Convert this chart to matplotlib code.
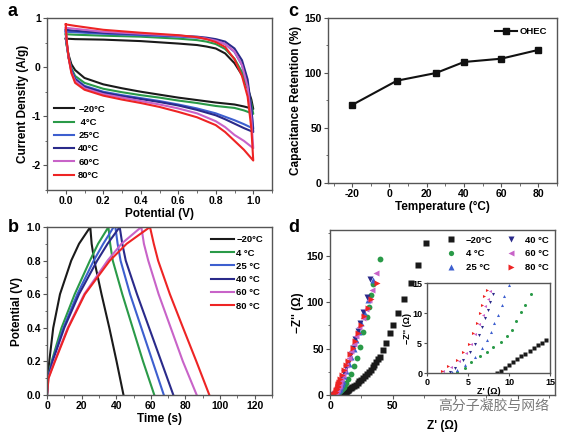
import numpy as np
import matplotlib
matplotlib.use("Agg")
import matplotlib.pyplot as plt
from matplotlib.ticker import MultipleLocator

plt.rcParams['font.family'] = ['Liberation Sans', 'DejaVu Sans']
plt.rcParams['font.weight'] = 'bold'
plt.rcParams['axes.labelweight'] = 'bold'
plt.rcParams['axes.unicode_minus'] = False

# ---------------- data ----------------
temps = ['\u221220\u00b0C', ' 4\u00b0C', '25\u00b0C', '40\u00b0C', '60\u00b0C', '80\u00b0C']
temps_b = ['\u221220\u00b0C', '4 \u00b0C', '25 \u00b0C', '40 \u00b0C', '60 \u00b0C', '80 \u00b0C']
colors = ['#1a1a1a', '#2a9a48', '#3d5fcf', '#2a2a8a', '#c863c8', '#ee2424']

# (a) CV curves: forward (upper) branch and reverse (lower) branch
cv_v_fwd = [0.0, 0.05, 0.2, 0.4, 0.6, 0.7, 0.75, 0.8, 0.85, 0.9, 0.94, 0.97, 0.99, 1.0]
cv_i_fwd = [
    [0.58, 0.57, 0.56, 0.53, 0.48, 0.45, 0.42, 0.38, 0.28, 0.08, -0.16, -0.42, -0.66, -0.85],
    [0.67, 0.66, 0.64, 0.62, 0.58, 0.55, 0.52, 0.47, 0.37, 0.17, -0.10, -0.42, -0.75, -0.95],
    [0.72, 0.71, 0.68, 0.65, 0.62, 0.60, 0.58, 0.54, 0.47, 0.31, 0.04, -0.35, -0.85, -1.25],
    [0.76, 0.74, 0.70, 0.67, 0.64, 0.62, 0.60, 0.57, 0.52, 0.38, 0.14, -0.25, -0.85, -1.32],
    [0.80, 0.78, 0.72, 0.68, 0.64, 0.61, 0.58, 0.54, 0.47, 0.32, 0.04, -0.40, -1.05, -1.65],
    [0.87, 0.84, 0.76, 0.70, 0.65, 0.61, 0.57, 0.51, 0.41, 0.16, -0.18, -0.60, -1.25, -1.90],
]
cv_v_rev = [1.0, 0.95, 0.9, 0.85, 0.8, 0.7, 0.6, 0.5, 0.4, 0.3, 0.2, 0.1, 0.05, 0.03, 0.015, 0.005, 0.0]
cv_i_rev = [
    [-0.85, -0.80, -0.76, -0.74, -0.72, -0.67, -0.62, -0.56, -0.50, -0.43, -0.35, -0.22, -0.06, 0.06, 0.25, 0.45, 0.58],
    [-0.95, -0.88, -0.83, -0.81, -0.79, -0.73, -0.68, -0.62, -0.57, -0.51, -0.44, -0.32, -0.18, -0.02, 0.20, 0.45, 0.67],
    [-1.25, -1.16, -1.08, -1.01, -0.94, -0.84, -0.76, -0.69, -0.63, -0.57, -0.50, -0.38, -0.23, -0.05, 0.20, 0.50, 0.72],
    [-1.32, -1.24, -1.15, -1.06, -0.98, -0.87, -0.78, -0.71, -0.65, -0.59, -0.52, -0.40, -0.25, -0.07, 0.20, 0.50, 0.76],
    [-1.65, -1.50, -1.38, -1.22, -1.10, -0.94, -0.84, -0.76, -0.69, -0.62, -0.55, -0.43, -0.28, -0.10, 0.20, 0.50, 0.80],
    [-1.90, -1.68, -1.50, -1.32, -1.18, -1.02, -0.91, -0.81, -0.73, -0.66, -0.58, -0.46, -0.32, -0.12, 0.20, 0.55, 0.87],
]

# (b) galvanostatic charge/discharge: time at each potential
gcd_v_ch = [0.0, 0.1, 0.2, 0.4, 0.6, 0.8, 0.9, 1.0]
gcd_t_ch = [
    [0.0, 0.3, 1.3, 3.6, 7.5, 14.0, 18.5, 25.0],
    [0.0, 0.5, 2.7, 8.4, 16.0, 24.8, 29.5, 35.5],
    [0.0, 0.6, 3.0, 9.5, 17.5, 27.0, 32.5, 38.5],
    [0.0, 0.6, 3.2, 10.0, 18.5, 29.0, 35.0, 42.0],
    [0.0, 0.8, 4.3, 12.0, 21.5, 35.0, 43.0, 54.5],
    [0.0, 0.9, 4.6, 12.3, 21.9, 36.3, 46.0, 59.5],
]
gcd_v_dis = [1.0, 0.9, 0.8, 0.6, 0.4, 0.2, 0.0]
gcd_t_dis = [
    [25.0, 25.8, 27.3, 31.5, 36.0, 40.2, 44.2],
    [35.5, 36.5, 38.0, 43.5, 49.5, 55.5, 62.0],
    [39.5, 40.8, 42.5, 48.0, 54.5, 61.0, 67.5],
    [42.0, 43.5, 45.5, 52.0, 59.0, 66.0, 73.0],
    [54.5, 56.0, 58.5, 64.5, 71.5, 78.5, 86.5],
    [59.5, 61.7, 64.2, 71.0, 78.6, 86.3, 93.8],
]

# (c) capacitance retention
ret_temp = [-20, 4, 25, 40, 60, 80]
ret_val = [71, 93, 100, 110, 113, 121]

# (d) Nyquist plots
eis_zr = [
    [8.5, 9.0, 9.5, 10.0, 10.5, 11.0, 11.5, 12.0, 12.5, 13.0, 13.5, 14.0, 14.5, 15.5, 16.5, 17.5,
     19.0, 20.5, 22.0, 23.5, 25.0, 26.5, 28.0, 29.5, 31.0, 32.5, 34.0, 35.5, 37.0, 38.5, 40.0,
     42.2, 44.4, 47.6, 50.5, 54.6, 59.4, 64.5, 70.7, 77.0],
    [3.6, 4.6, 5.4, 6.5, 7.3, 8.1, 9.0, 9.7, 10.4, 10.9, 11.5, 12.0, 12.7, 14.5, 16.7, 19.4,
     21.5, 23.9, 26.6, 29.3, 31.0, 32.8, 34.5, 40.1],
    [3.0, 3.6, 4.6, 5.9, 6.7, 7.3, 7.8, 8.2, 8.7, 9.2, 9.4, 10.0, 11.5, 13.0, 15.0, 17.0, 19.0,
     21.0, 23.0, 25.0, 27.5, 30.0, 34.5],
    [2.8, 3.4, 4.4, 5.2, 5.9, 6.3, 6.7, 7.1, 7.4, 7.7, 8.1, 9.5, 11.0, 12.5, 14.0, 16.0, 18.0,
     20.0, 22.0, 24.0, 26.6, 29.5, 32.0],
    [2.0, 2.9, 3.9, 4.7, 5.4, 5.9, 6.4, 6.8, 7.1, 7.4, 7.7, 8.8, 10.0, 11.5, 13.0, 15.0, 17.0,
     19.0, 21.0, 23.5, 26.0, 28.5, 31.0, 33.5, 36.8],
    [1.8, 2.6, 3.6, 4.4, 5.1, 5.6, 6.1, 6.5, 6.7, 7.0, 7.3, 8.3, 9.5, 11.0, 12.5, 14.0, 16.0,
     18.0, 20.0, 22.5, 25.0, 27.5, 30.0, 33.0, 37.6],
]
eis_zi = [
    [0.0, 0.4, 0.9, 1.3, 1.8, 2.3, 2.8, 3.2, 3.7, 4.1, 4.6, 5.0, 5.5, 6.4, 7.2, 8.2,
     9.6, 11.2, 12.8, 14.6, 16.5, 18.5, 20.6, 22.8, 25.1, 27.5, 30.0, 32.7, 35.5, 38.5, 41.5,
     48.9, 56.0, 66.9, 75.8, 89.0, 103.6, 120.8, 140.5, 164.0],
    [0.2, 0.9, 1.8, 2.8, 3.5, 4.4, 5.2, 6.1, 7.2, 8.6, 10.2, 11.4, 13.1, 17.5, 23.0, 31.0,
     40.0, 52.1, 68.3, 84.5, 95.0, 108.0, 120.0, 146.7],
    [0.2, 0.5, 1.3, 2.7, 4.1, 5.5, 6.9, 8.3, 9.7, 11.4, 12.8, 14.7, 20.0, 25.5, 33.0, 41.0, 50.0,
     59.0, 68.0, 78.0, 90.0, 103.0, 124.0],
    [0.2, 0.9, 2.1, 3.5, 4.9, 6.3, 7.7, 9.1, 10.5, 11.9, 13.1, 18.0, 23.5, 29.0, 35.0, 43.0, 51.0,
     60.0, 69.0, 78.0, 90.0, 106.0, 125.5],
    [0.3, 1.0, 2.0, 3.4, 4.9, 6.5, 8.1, 9.7, 11.2, 12.4, 13.6, 17.5, 22.0, 27.0, 32.5, 40.0, 47.5,
     55.5, 63.5, 73.0, 83.0, 93.0, 103.0, 113.0, 131.6],
    [0.4, 1.1, 2.1, 3.5, 4.9, 6.6, 8.3, 10.0, 11.4, 12.8, 13.9, 17.5, 21.5, 27.0, 32.0, 37.0, 44.0,
     51.0, 58.0, 67.0, 76.0, 85.0, 94.0, 104.0, 120.8],
]
eis_markers = ['s', 'o', '^', 'v', '<', '>']
eis_labels = ['\u221220\u00b0C', '4 \u00b0C', '25 \u00b0C', '40 \u00b0C', '60 \u00b0C', '80 \u00b0C']
d_xticks = [0, 50, 100, 150]
d_xticklabels = ['0', '50', '', '']   # the last two are hidden by the watermark in the source

# ---------------- style ----------------
W, H = 570, 436
fig = plt.figure(figsize=(W / 100, H / 100), dpi=100)
tick_fs = 7.5
label_fs = 8.5
spine_c = '#555555'


def box(l, t, r, b):
    return [l / W, 1 - b / H, (r - l) / W, (b - t) / H]


def style_ax(ax, fs=tick_fs):
    for s in ax.spines.values():
        s.set_color(spine_c)
        s.set_linewidth(1.0)
    ax.tick_params(which='major', direction='out', length=3, width=0.8, color=spine_c,
                   labelsize=fs, pad=1.5)
    ax.tick_params(which='minor', direction='out', length=1.8, width=0.6, color=spine_c)
    for lab in ax.get_xticklabels() + ax.get_yticklabels():
        lab.set_fontweight('bold')


# (a)
ax_a = fig.add_axes(box(47, 18, 272, 190))
for k in range(6):
    vv = cv_v_fwd + cv_v_rev
    ii = cv_i_fwd[k] + cv_i_rev[k]
    ax_a.plot(vv, ii, color=colors[k], lw=1.5, label=temps[k])
ax_a.set_xlim(-0.1, 1.1)
ax_a.set_ylim(-2.5, 1)
ax_a.xaxis.set_major_locator(MultipleLocator(0.2))
ax_a.xaxis.set_minor_locator(MultipleLocator(0.1))
ax_a.yaxis.set_major_locator(MultipleLocator(1))
ax_a.yaxis.set_minor_locator(MultipleLocator(0.5))
style_ax(ax_a)
ax_a.set_xlabel('Potential (V)', fontsize=label_fs, labelpad=1)
ax_a.set_ylabel('Current Density (A/g)', fontsize=label_fs, labelpad=2)
ax_a.legend(loc='lower left', bbox_to_anchor=(0.0, 0.02), frameon=False,
            handlelength=2.2, handletextpad=0.4, labelspacing=0.45, borderaxespad=0.3,
            prop={'weight': 'bold', 'size': 6.8})

# (c)
ax_c = fig.add_axes(box(328, 18, 557, 183))
ax_c.plot(ret_temp, ret_val, color='#111111', lw=1.5, marker='s', ms=4, label='OHEC')
ax_c.set_xlim(-33, 90)
ax_c.set_ylim(0, 150)
ax_c.xaxis.set_major_locator(MultipleLocator(20))
ax_c.xaxis.set_minor_locator(MultipleLocator(10))
ax_c.yaxis.set_major_locator(MultipleLocator(50))
ax_c.yaxis.set_minor_locator(MultipleLocator(25))
style_ax(ax_c)
ax_c.set_xlabel('Temperature (\u00b0C)', fontsize=label_fs, labelpad=1)
ax_c.set_ylabel('Capacitance Retention (%)', fontsize=label_fs, labelpad=2)
ax_c.legend(loc='upper right', frameon=False, handlelength=2.4, handletextpad=0.3,
            borderaxespad=0.6, prop={'weight': 'bold', 'size': 6.8})

# (b)
ax_b = fig.add_axes(box(47, 227, 272, 395))
for k in range(6):
    tt = gcd_t_ch[k] + gcd_t_dis[k]
    vv = gcd_v_ch + gcd_v_dis
    ax_b.plot(tt, vv, color=colors[k], lw=1.5, label=temps_b[k])
ax_b.set_xlim(0, 130)
ax_b.set_ylim(0, 1.0)
ax_b.xaxis.set_major_locator(MultipleLocator(20))
ax_b.xaxis.set_minor_locator(MultipleLocator(10))
ax_b.yaxis.set_major_locator(MultipleLocator(0.2))
ax_b.yaxis.set_minor_locator(MultipleLocator(0.1))
style_ax(ax_b)
ax_b.set_xlabel('Time (s)', fontsize=label_fs, labelpad=1)
ax_b.set_ylabel('Potential (V)', fontsize=label_fs, labelpad=2)
ax_b.legend(loc='upper right', bbox_to_anchor=(0.99, 0.99), frameon=False, handlelength=2.4,
            handletextpad=0.3, labelspacing=0.45, borderaxespad=0.3,
            prop={'weight': 'bold', 'size': 6.8})

# (d)
ax_d = fig.add_axes(box(330, 230, 555, 395))
for k in range(6):
    ax_d.plot(eis_zr[k], eis_zi[k], ls='none', marker=eis_markers[k], ms=4.2,
              color=colors[k], mec='none', label=eis_labels[k])
ax_d.set_xlim(0, 180)
ax_d.set_ylim(0, 178)
ax_d.set_xticks(d_xticks)
ax_d.set_xticklabels(d_xticklabels)
ax_d.xaxis.set_minor_locator(MultipleLocator(25))
ax_d.yaxis.set_major_locator(MultipleLocator(50))
ax_d.yaxis.set_minor_locator(MultipleLocator(25))
style_ax(ax_d)
ax_d.set_xlabel("Z' (\u03a9)", fontsize=label_fs, labelpad=6)
ax_d.set_ylabel("\u2212Z'' (\u03a9)", fontsize=label_fs, labelpad=2)
ax_d.legend(loc='upper right', ncol=2, frameon=False, handletextpad=0.5, columnspacing=1.0,
            labelspacing=0.5, borderaxespad=0.2, markerscale=0.9,
            prop={'weight': 'bold', 'size': 6.8})

ax_in = fig.add_axes(box(427, 283, 550, 373))
for k in range(6):
    ax_in.plot(eis_zr[k], eis_zi[k], ls='none', marker=eis_markers[k], ms=2.2,
               color=colors[k], mec='none')
ax_in.set_xlim(0, 15)
ax_in.set_ylim(0, 15)
ax_in.xaxis.set_major_locator(MultipleLocator(5))
ax_in.yaxis.set_major_locator(MultipleLocator(5))
style_ax(ax_in, fs=6.5)
ax_in.tick_params(which='major', length=2)
ax_in.set_xlabel("Z' (\u03a9)", fontsize=6.5, labelpad=0)
ax_in.set_ylabel("\u2212Z'' (\u03a9)", fontsize=6.5, labelpad=0)

# panel letters
for lab, (px, py) in zip('acbd', [(8, 12), (288, 12), (8, 227), (288, 227)]):
    fig.text(px / W, 1 - py / H, lab, fontsize=13, fontweight='bold', va='center', ha='left')

# watermark
fig.text(494 / W, 1 - 406 / H, '\u9ad8\u5206\u5b50\u51dd\u80f6\u4e0e\u7f51\u7edc',
         family=['Noto Sans CJK SC', 'DejaVu Sans'], fontsize=10, color='#7a7a7a',
         ha='center', va='center', fontweight='normal')

fig.savefig('out.png', dpi=100)
